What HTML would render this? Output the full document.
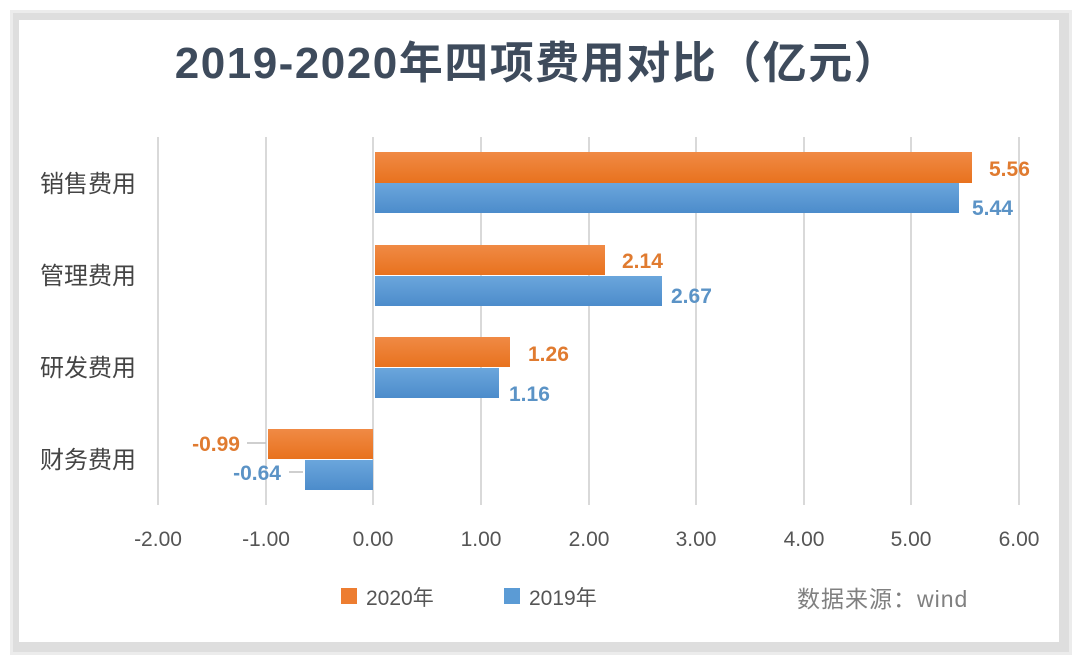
<!DOCTYPE html>
<html><head><meta charset="utf-8"><style>
html,body{margin:0;padding:0;background:#fff;}
svg{display:block;}
text{font-family:"Liberation Sans","Noto Sans CJK SC",sans-serif;}
</style></head><body>
<svg width="1080" height="666" viewBox="0 0 1080 666" xmlns="http://www.w3.org/2000/svg">
<defs>
<linearGradient id="og" x1="0" y1="0" x2="0" y2="1"><stop offset="0" stop-color="#F08A45"/><stop offset="1" stop-color="#E8721E"/></linearGradient>
<linearGradient id="bg" x1="0" y1="0" x2="0" y2="1"><stop offset="0" stop-color="#6BA6DC"/><stop offset="1" stop-color="#4C8CCB"/></linearGradient>
</defs>
<rect x="10" y="10" width="1062" height="645" fill="#ececec"/>
<rect x="13" y="13" width="1056" height="639" fill="#dedede"/>
<rect x="19" y="20" width="1040" height="622" fill="#fff"/>
<text x="537" y="78" text-anchor="middle" font-size="44" font-weight="bold" fill="#3E4B5C" letter-spacing="1.5">2019-2020年四项费用对比（亿元）</text>
<g stroke="#d9d9d9" stroke-width="2">
<line x1="158" y1="137" x2="158" y2="505"/><line x1="266" y1="137" x2="266" y2="505"/><line x1="373" y1="137" x2="373" y2="505"/><line x1="481" y1="137" x2="481" y2="505"/><line x1="589" y1="137" x2="589" y2="505"/><line x1="696" y1="137" x2="696" y2="505"/><line x1="804" y1="137" x2="804" y2="505"/><line x1="911" y1="137" x2="911" y2="505"/><line x1="1019" y1="137" x2="1019" y2="505"/>
</g>
<rect x="375" y="152" width="597" height="31" fill="url(#og)"/>
<rect x="375" y="183" width="584" height="30" fill="url(#bg)"/>
<rect x="375" y="245" width="230" height="30" fill="url(#og)"/>
<rect x="375" y="276" width="287" height="30" fill="url(#bg)"/>
<rect x="375" y="337" width="135" height="30" fill="url(#og)"/>
<rect x="375" y="368" width="124" height="30" fill="url(#bg)"/>
<rect x="268" y="429" width="105" height="30" fill="url(#og)"/>
<rect x="305" y="460" width="68" height="30" fill="url(#bg)"/>
<g font-size="21" font-weight="bold">
<text x="989" y="176" fill="#E07B30">5.56</text>
<text x="972" y="215" fill="#5B93C6">5.44</text>
<text x="622" y="268" fill="#E07B30">2.14</text>
<text x="671" y="303" fill="#5B93C6">2.67</text>
<text x="528" y="361" fill="#E07B30">1.26</text>
<text x="509" y="401" fill="#5B93C6">1.16</text>
<text x="240" y="451" text-anchor="end" fill="#E07B30">-0.99</text>
<text x="281" y="480" text-anchor="end" fill="#5B93C6">-0.64</text>
</g>
<g stroke="#bfbfbf" stroke-width="1.5"><line x1="247" y1="443" x2="266" y2="443"/><line x1="289" y1="472" x2="303" y2="472"/></g>
<g font-size="24" fill="#444" font-family="'Noto Serif CJK SC','Noto Sans CJK SC',serif">
<text x="40" y="192">销售费用</text><text x="40" y="284">管理费用</text><text x="40" y="376">研发费用</text><text x="40" y="468">财务费用</text>
</g>
<g font-size="21" fill="#555" text-anchor="middle">
<text x="158" y="546">-2.00</text><text x="266" y="546">-1.00</text><text x="373" y="546">0.00</text><text x="481" y="546">1.00</text><text x="589" y="546">2.00</text><text x="696" y="546">3.00</text><text x="804" y="546">4.00</text><text x="911" y="546">5.00</text><text x="1019" y="546">6.00</text>
</g>
<rect x="341" y="588" width="16" height="16" fill="#ED7D31"/>
<text x="366" y="605" font-size="21" fill="#555">2020年</text>
<rect x="504" y="588" width="16" height="16" fill="#5B9BD5"/>
<text x="529" y="605" font-size="21" fill="#555">2019年</text>
<text x="797" y="607" font-size="23" fill="#808080" letter-spacing="1">数据来源：wind</text>
</svg>
</body></html>
